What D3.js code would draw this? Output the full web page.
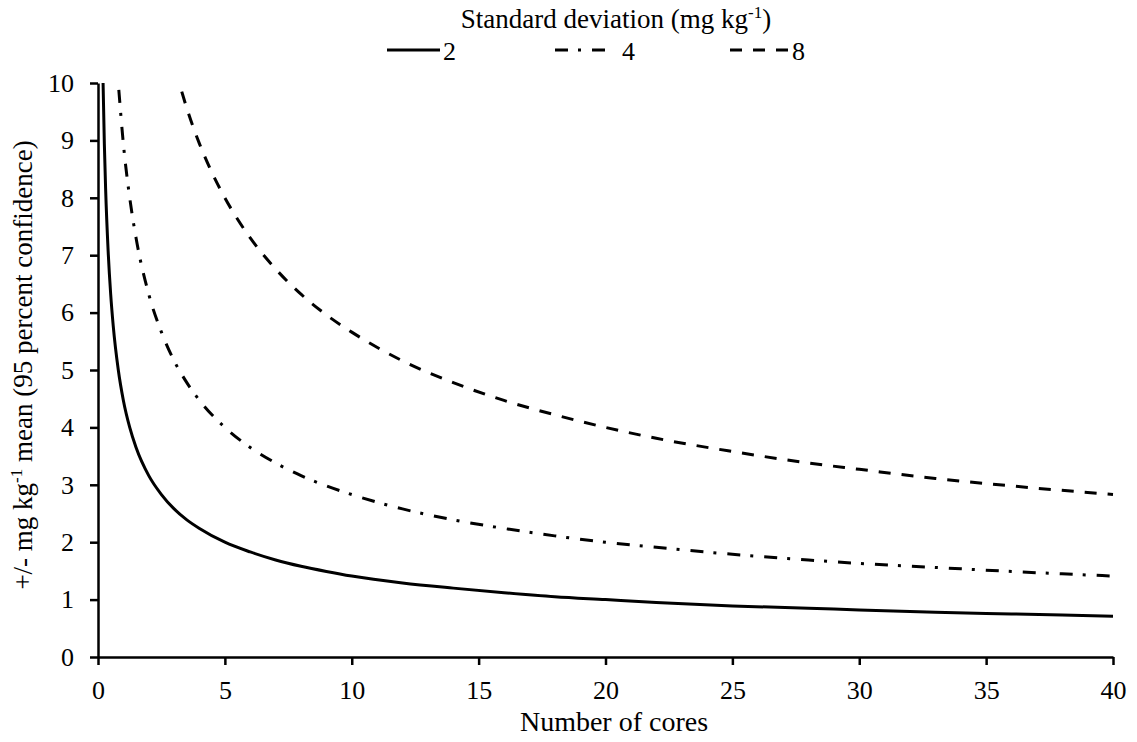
<!DOCTYPE html>
<html>
<head>
<meta charset="utf-8">
<script src="https://cdn.jsdelivr.net/npm/d3@7"></script>
<style>
  html, body { margin: 0; padding: 0; background: #fff; }
  svg { display: block; }
</style>
</head>
<body>
<svg id="chart" width="1137" height="742"></svg>
<script>
// ---- data ----
const xTicks = [0, 5, 10, 15, 20, 25, 30, 35, 40];
const yTicks = [0, 1, 2, 3, 4, 5, 6, 7, 8, 9, 10];
const seriesNames = ["2", "4", "8"];

const sd2Cores = [0.2, 0.25, 0.3, 0.4, 0.5, 0.6, 0.8, 1, 1.25, 1.5, 2, 2.5, 3, 3.5, 4, 5, 6, 7, 8, 9, 10, 12, 14, 16, 18, 20, 22, 25, 28, 30, 33, 36, 40];
const sd2Values = [10.0, 8.94, 8.16, 7.07, 6.32, 5.77, 5.0, 4.47, 4.0, 3.65, 3.16, 2.83, 2.58, 2.39, 2.24, 2.0, 1.83, 1.69, 1.58, 1.49, 1.41, 1.29, 1.20, 1.12, 1.05, 1.0, 0.95, 0.89, 0.85, 0.82, 0.78, 0.75, 0.71];

const sd4Cores = [0.82, 1, 1.25, 1.5, 2, 2.5, 3, 3.5, 4, 5, 6, 7, 8, 9, 10, 12, 14, 16, 18, 20, 22, 25, 28, 30, 33, 36, 40];
const sd4Values = [9.88, 8.94, 8.0, 7.30, 6.32, 5.66, 5.16, 4.78, 4.47, 4.0, 3.65, 3.38, 3.16, 2.98, 2.83, 2.58, 2.39, 2.24, 2.11, 2.0, 1.91, 1.79, 1.69, 1.63, 1.56, 1.49, 1.41];

const sd8Cores = [3.3, 3.5, 4, 4.5, 5, 6, 7, 8, 9, 10, 12, 14, 16, 18, 20, 22, 25, 28, 30, 33, 36, 40];
const sd8Values = [9.85, 9.56, 8.94, 8.43, 8.0, 7.30, 6.76, 6.32, 5.96, 5.66, 5.16, 4.78, 4.47, 4.22, 4.0, 3.81, 3.58, 3.38, 3.27, 3.11, 2.98, 2.83];

// ---- layout ----
const svg = d3.select("#chart");
const margin = { left: 98, right: 24, top: 83, bottom: 85 };
const W = 1137, H = 742;
const fontSize = 26;
const titleSize = 27;
const FONT = "'Liberation Serif', 'Times New Roman', 'DejaVu Serif', serif";

const x = d3.scaleLinear().domain([0, 40]).range([margin.left, W - margin.right]);
const y = d3.scaleLinear().domain([0, 10]).range([H - margin.bottom, margin.top]);

const styles = [
  { dash: null },
  { dash: "13,10,3,11" },
  { dash: "12,11" }
];

const series = [
  { name: seriesNames[0], cores: sd2Cores, values: sd2Values },
  { name: seriesNames[1], cores: sd4Cores, values: sd4Values },
  { name: seriesNames[2], cores: sd8Cores, values: sd8Values }
];

// ---- axes ----
const xAxis = d3.axisBottom(x).tickValues(xTicks).tickSize(8).tickSizeOuter(0).tickPadding(16).tickFormat(d3.format("d"));
const yAxis = d3.axisLeft(y).tickValues(yTicks).tickSize(8).tickSizeOuter(0).tickPadding(16).tickFormat(d3.format("d"));

const gx = svg.append("g").attr("transform", `translate(0,${y(0)})`).call(xAxis);
const gy = svg.append("g").attr("transform", `translate(${x(0)},0)`).call(yAxis);

[gx, gy].forEach(g => {
  g.attr("font-family", null).attr("font-size", null);
  g.selectAll("path.domain").attr("stroke", "#000").attr("stroke-width", 2.5);
  g.selectAll(".tick line").attr("stroke", "#000").attr("stroke-width", 2.5);
  g.selectAll(".tick text")
    .style("font-family", FONT)
    .style("font-size", fontSize + "px")
    .attr("fill", "#000");
});

// ---- curves ----
const line = d3.line()
  .x(d => x(d[0]))
  .y(d => y(d[1]))
  .curve(d3.curveMonotoneX);

series.forEach((s, i) => {
  const pts = s.cores.map((c, j) => [c, s.values[j]]);
  const p = svg.append("path")
    .datum(pts)
    .attr("fill", "none")
    .attr("stroke", "#000")
    .attr("stroke-width", 3)
    .attr("d", line);
  if (styles[i].dash) p.attr("stroke-dasharray", styles[i].dash);
});

function txt(sel, size) {
  return sel.style("font-family", FONT).style("font-size", (size || fontSize) + "px").attr("fill", "#000");
}

// ---- axis titles ----
txt(svg.append("text"), 28)
  .attr("x", 614).attr("y", 731)
  .attr("text-anchor", "middle")
  .text("Number of cores");

const yt = txt(svg.append("text"), titleSize)
  .attr("transform", "translate(32,365) rotate(-90)")
  .attr("text-anchor", "middle");
yt.append("tspan").text("+/- mg kg");
yt.append("tspan").style("font-size", "17px").attr("dy", -10).text("-1");
yt.append("tspan").attr("dy", 10).text(" mean (95 percent confidence)");

// ---- legend ----
const lt = txt(svg.append("text"), titleSize)
  .attr("x", 616).attr("y", 28)
  .attr("text-anchor", "middle");
lt.append("tspan").text("Standard deviation (mg kg");
lt.append("tspan").style("font-size", "17px").attr("dy", -10).text("-1");
lt.append("tspan").attr("dy", 10).text(")");

const legendItems = [
  { x1: 387, x2: 440, tx: 443 },
  { x1: 555, x2: 605, tx: 622 },
  { x1: 730, x2: 789, tx: 792 }
];
const legendY = 50;
legendItems.forEach((it, i) => {
  const l = svg.append("line")
    .attr("x1", it.x1).attr("x2", it.x2)
    .attr("y1", legendY).attr("y2", legendY)
    .attr("stroke", "#000").attr("stroke-width", 3);
  if (styles[i].dash) l.attr("stroke-dasharray", styles[i].dash);
  txt(svg.append("text"))
    .attr("x", it.tx).attr("y", 60)
    .text(series[i].name);
});
</script>
</body>
</html>
